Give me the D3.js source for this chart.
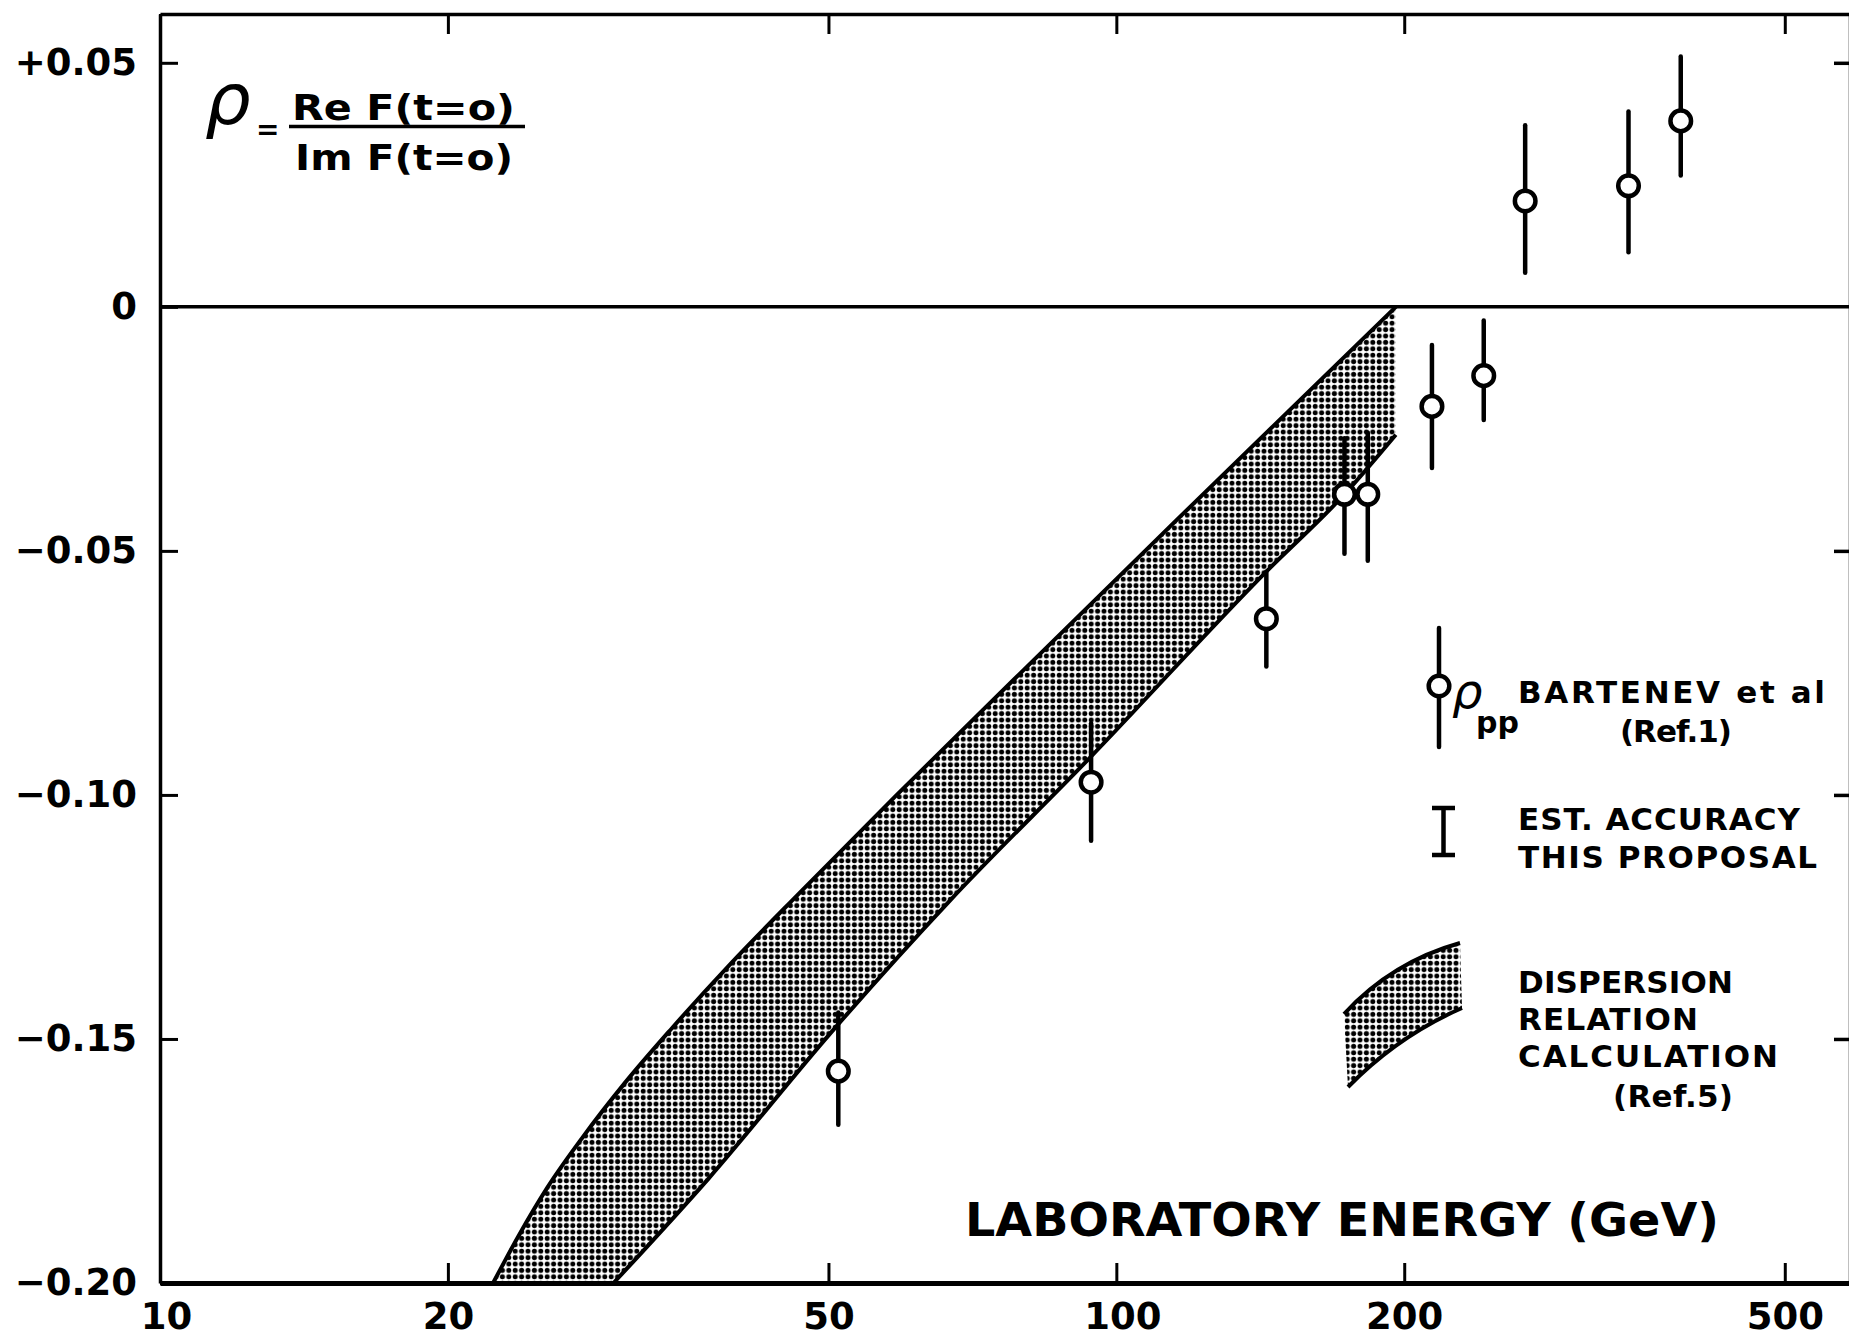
<!DOCTYPE html>
<html>
<head>
<meta charset="utf-8">
<script src="https://cdn.jsdelivr.net/npm/d3@7"></script>
<style>
  body { margin: 0; background: #fff; }
  svg { display: block; background: #fff; }
  text { font-family: "DejaVu Sans", sans-serif; fill: #000; }
</style>
</head>
<body>
<svg id="chart" width="1849" height="1343"></svg>
<script>
// Bartenev et al. rho_pp measurements (lab energy in GeV)
var energies  = [51.2, 94.1, 143.5, 173.2, 183.2, 213.8, 242.2, 267.6, 343.2, 389.2]
var rhoValues = [-0.1566, -0.0974, -0.0639, -0.0384, -0.0384, -0.0204, -0.0141, 0.0217, 0.0248, 0.0381]
var rhoHigh   = [-0.1446, -0.0853, -0.0543, -0.0269, -0.0258, -0.0078, -0.0028, 0.0372, 0.0400, 0.0513]
var rhoLow    = [-0.1676, -0.1094, -0.0737, -0.0506, -0.0520, -0.0330, -0.0232, 0.0070, 0.0112, 0.0269]

// dispersion relation band (Ref. 5), upper and lower edges
var bandUpperE   = [22.3, 23.7, 25.4, 27.7, 30.6, 34.3, 39.5, 46.9, 58.8, 78.1, 116.3, 196]
var bandUpperRho = [-0.200, -0.1904, -0.1805, -0.1700, -0.1591, -0.1478, -0.1346, -0.1196, -0.1002, -0.0764, -0.0432, 0.000]
var bandLowerE   = [29.8, 37.5, 50.2, 67.1, 93.7, 143.4, 173.2, 196]
var bandLowerRho = [-0.200, -0.1785, -0.1489, -0.1215, -0.0925, -0.0543, -0.0384, -0.0262]

var xTicks = [10, 20, 50, 100, 200, 500]
var yTicks = [-0.20, -0.15, -0.10, -0.05, 0, 0.05]
var yTickLabels = ["\u22120.20", "\u22120.15", "\u22120.10", "\u22120.05", "0", "+0.05"]

var svg = d3.select("#chart")

var x = d3.scaleLog().domain([10, 585]).range([160, 1850])
var y = d3.scaleLinear().domain([-0.20, 0.06]).range([1283, 14])

// dot screen used for the shaded band
var pat = svg.append("defs").append("pattern")
  .attr("id", "dots")
  .attr("patternUnits", "userSpaceOnUse")
  .attr("width", 6.4)
  .attr("height", 6.4)
pat.append("rect").attr("width", 6.4).attr("height", 6.4).attr("fill", "#fff")
pat.append("circle").attr("cx", 3.2).attr("cy", 3.2).attr("r", 2.5).attr("fill", "#000")

var upperPts = bandUpperE.map((e, i) => [x(e), y(bandUpperRho[i])])
var lowerPts = bandLowerE.map((e, i) => [x(e), y(bandLowerRho[i])])

var edge = d3.line().curve(d3.curveMonotoneX)

// band fill
svg.append("path")
   .attr("d", edge(upperPts) + edge(lowerPts.slice().reverse()).replace(/^M/, "L") + "Z")
   .attr("fill", "url(#dots)")
   .attr("stroke", "none")

// band outlines
svg.selectAll("path.edge")
   .data([upperPts, lowerPts])
   .enter()
   .append("path")
   .attr("class", "edge")
   .attr("d", edge)
   .attr("fill", "none")
   .attr("stroke", "#000")
   .attr("stroke-width", 4)

// axes
var bottomAxis = svg.append("g")
  .attr("transform", `translate(0,${y(-0.20)})`)
  .call(d3.axisBottom(x).tickValues(xTicks).tickFormat(d3.format("d"))
        .tickSizeInner(-20).tickSizeOuter(0).tickPadding(20))
bottomAxis.select(".domain").attr("stroke-width", 5)
bottomAxis.selectAll(".tick line").attr("stroke-width", 3)
bottomAxis.selectAll(".tick text")
  .attr("font-size", 37)
  .attr("font-family", "DejaVu Sans")
  .style("font-weight", "bold")
  .attr("dx", (d) => d === 10 ? 6 : (d === 100 ? 6 : 0))

var topAxis = svg.append("g")
  .attr("transform", `translate(0,${y(0.06)})`)
  .call(d3.axisTop(x).tickValues(xTicks).tickFormat("").tickSizeInner(-20).tickSizeOuter(0))
topAxis.select(".domain").attr("stroke-width", 3.5)
topAxis.selectAll(".tick line").attr("stroke-width", 3)

var leftAxis = svg.append("g")
  .attr("transform", `translate(${x(10)},0)`)
  .call(d3.axisLeft(y).tickValues(yTicks).tickFormat((d, i) => yTickLabels[i])
        .tickSizeInner(-18).tickSizeOuter(0).tickPadding(23))
leftAxis.select(".domain").attr("stroke-width", 3.5)
leftAxis.selectAll(".tick line").attr("stroke-width", 3)
leftAxis.selectAll(".tick text")
  .attr("font-size", 37)
  .attr("font-family", "DejaVu Sans")
  .style("font-weight", "bold")

var rightAxis = svg.append("g")
  .attr("transform", `translate(${x(585)},0)`)
  .call(d3.axisRight(y).tickValues(yTicks.filter((d) => d !== 0 && d !== -0.20)).tickFormat("")
        .tickSizeInner(-16).tickSizeOuter(0))
rightAxis.select(".domain").attr("stroke-width", 3.5)
rightAxis.selectAll(".tick line").attr("stroke-width", 3.5)

// zero line
svg.append("line")
   .attr("x1", x(10)).attr("x2", x(585))
   .attr("y1", y(0)).attr("y2", y(0))
   .attr("stroke", "#000")
   .attr("stroke-width", 3.5)

// data points with error bars
var pts = energies.map((e, i) => ({e: e, v: rhoValues[i], hi: rhoHigh[i], lo: rhoLow[i]}))

svg.selectAll("line.err")
   .data(pts)
   .enter()
   .append("line")
   .attr("class", "err")
   .attr("x1", (d) => x(d.e)).attr("x2", (d) => x(d.e))
   .attr("y1", (d) => y(d.hi)).attr("y2", (d) => y(d.lo))
   .attr("stroke", "#000")
   .attr("stroke-width", 4.5)
   .attr("stroke-linecap", "round")

svg.selectAll("circle.pt")
   .data(pts)
   .enter()
   .append("circle")
   .attr("class", "pt")
   .attr("cx", (d) => x(d.e))
   .attr("cy", (d) => y(d.v))
   .attr("r", 10.3)
   .attr("fill", "#fff")
   .attr("stroke", "#000")
   .attr("stroke-width", 4.5)

// formula
svg.append("text").attr("x", 205).attr("y", 124).attr("font-size", 72)
   .style("font-style", "italic").style("font-weight", "normal").text("\u03c1")
svg.append("text").attr("x", 256).attr("y", 139).attr("font-size", 28).style("font-weight", "bold").text("=")
svg.append("text").attr("x", 292).attr("y", 120).attr("font-size", 35).style("font-weight", "bold")
   .attr("textLength", 223).attr("lengthAdjust", "spacingAndGlyphs").text("Re  F(t=o)")
svg.append("line").attr("x1", 289).attr("x2", 525).attr("y1", 126.5).attr("y2", 126.5)
   .attr("stroke", "#000").attr("stroke-width", 3.5)
svg.append("text").attr("x", 295).attr("y", 170).attr("font-size", 35).style("font-weight", "bold")
   .attr("textLength", 218).attr("lengthAdjust", "spacingAndGlyphs").text("Im F(t=o)")

// axis title
svg.append("text").attr("x", 965).attr("y", 1236).attr("font-size", 47)
   .style("font-weight", "bold")
   .attr("textLength", 754).attr("lengthAdjust", "spacingAndGlyphs")
   .text("LABORATORY  ENERGY  (GeV)")

// legend
var lg = svg.append("g")
lg.append("line").attr("x1", 1439).attr("x2", 1439).attr("y1", 628).attr("y2", 747)
  .attr("stroke", "#000").attr("stroke-width", 4.5).attr("stroke-linecap", "round")
lg.append("circle").attr("cx", 1439).attr("cy", 686).attr("r", 10.3)
  .attr("fill", "#fff").attr("stroke", "#000").attr("stroke-width", 4.5)
lg.append("text").attr("x", 1452).attr("y", 708).attr("font-size", 48)
  .style("font-style", "italic").style("font-weight", "normal").text("\u03c1")
lg.append("text").attr("x", 1476).attr("y", 733).attr("font-size", 30).style("font-weight", "bold").text("pp")

var legendText = [
  {t: "BARTENEV  et  al", x: 1518, y: 703, w: 307},
  {t: "(Ref.1)", x: 1620, y: 742, w: 112},
  {t: "EST. ACCURACY", x: 1518, y: 830, w: 282},
  {t: "THIS  PROPOSAL", x: 1518, y: 868, w: 299},
  {t: "DISPERSION", x: 1518, y: 993, w: 215},
  {t: "RELATION", x: 1518, y: 1030, w: 180},
  {t: "CALCULATION", x: 1518, y: 1067, w: 260},
  {t: "(Ref.5)", x: 1613, y: 1107, w: 120}
]
lg.selectAll("text.lt")
  .data(legendText)
  .enter()
  .append("text")
  .attr("class", "lt")
  .attr("x", (d) => d.x).attr("y", (d) => d.y)
  .attr("font-size", 31)
  .style("font-weight", "bold")
  .attr("textLength", (d) => d.w)
  .attr("lengthAdjust", "spacing")
  .text((d) => d.t)

// "I" symbol
lg.append("path")
  .attr("d", "M1432,808 H1455 M1443.5,808 V855 M1432,855 H1455")
  .attr("fill", "none").attr("stroke", "#000").attr("stroke-width", 4.5)

// band swatch
lg.append("path")
  .attr("d", "M1344,1014 Q1392,962 1460,943 L1462,1008 Q1398,1036 1348,1087 Z")
  .attr("fill", "url(#dots)").attr("stroke", "none")
lg.append("path")
  .attr("d", "M1344,1014 Q1392,962 1460,943 M1462,1008 Q1398,1036 1348,1087")
  .attr("fill", "none").attr("stroke", "#000").attr("stroke-width", 4)
</script>
</body>
</html>
